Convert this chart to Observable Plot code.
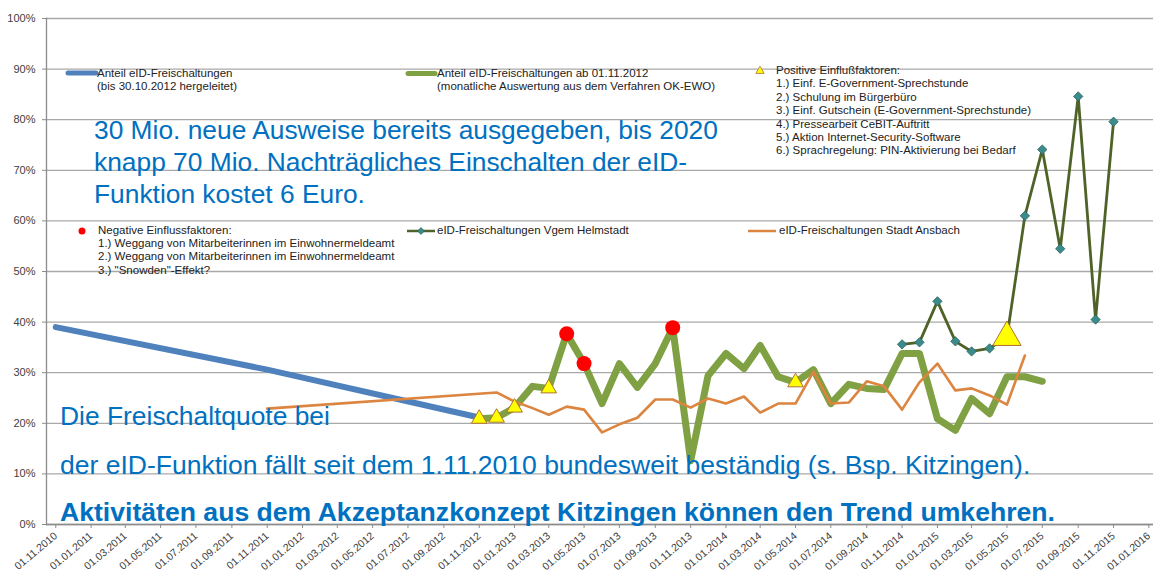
<!DOCTYPE html>
<html><head><meta charset="utf-8">
<script src="https://cdn.jsdelivr.net/npm/d3@7"></script>
<script src="https://cdn.jsdelivr.net/npm/@observablehq/plot@0.6"></script>
<style>
body{margin:0;background:#fff;}
#wrap{position:relative;width:1153px;height:575px;overflow:hidden;font-family:"Liberation Sans",Arial,sans-serif;}
#wrap > svg{position:absolute;left:0;top:0;}
#over{pointer-events:none}
</style></head><body><div id="wrap"></div>
<script>
// ---------- data ----------
const yTicks = [0, 10, 20, 30, 40, 50, 60, 70, 80, 90, 100];
const xTickLabels = ["01.11.2010","01.01.2011","01.03.2011","01.05.2011","01.07.2011","01.09.2011",
  "01.11.2011","01.01.2012","01.03.2012","01.05.2012","01.07.2012","01.09.2012",
  "01.11.2012","01.01.2013","01.03.2013","01.05.2013","01.07.2013","01.09.2013",
  "01.11.2013","01.01.2014","01.03.2014","01.05.2014","01.07.2014","01.09.2014",
  "01.11.2014","01.01.2015","01.03.2015","01.05.2015","01.07.2015","01.09.2015",
  "01.11.2015","01.01.2016"];

// Anteil eID-Freischaltungen (bis 30.10.2012 hergeleitet)
const blueDates = ["2010-11-01", "2011-11-01", "2012-10-30"];
const blueValues = [39.0, 30.6, 21.2];

// Anteil eID-Freischaltungen ab 01.11.2012 (monthly from Nov 2012)
const greenStart = "2012-11-01";
const greenValues = [20.9, 21.1, 23.1, 27.3, 26.9, 37.7, 31.8, 23.9, 31.8, 27.1, 31.8, 38.9,
  12.6, 29.4, 33.8, 30.8, 35.4, 29.2, 28.1, 30.6, 23.9, 27.7, 26.9, 26.7,
  33.8, 33.8, 20.9, 18.6, 24.9, 21.9, 29.2, 29.2, 28.3];

// eID-Freischaltungen Stadt Ansbach
const ansbachDates0 = ["2011-11-01"];
const ansbachValues0 = [22.9];
const ansbachStart = "2012-12-01";
const ansbachValues = [26.1, 24.3, 23.0, 21.7, 23.3, 22.7, 18.2, 19.8, 21.1, 24.7, 24.7, 23.1,
  24.9, 23.9, 25.3, 22.1, 23.9, 23.9, 30.2, 23.9, 24.1, 28.3, 27.3, 22.7,
  28.1, 31.8, 26.5, 26.9, 25.5, 23.7, 33.4];

// eID-Freischaltungen Vgem Helmstadt
const helmStart = "2014-11-01";
const helmValues = [35.6, 36.0, 44.1, 36.2, 34.2, 34.8, 37.0, 61.0, 74.1, 54.5, 84.6, 40.5, 79.6];

// Negative Einflussfaktoren (on the green series)
const negDates = ["2013-04-01", "2013-05-01", "2013-10-01"];
// Positive Einflussfaktoren
const posDates = ["2012-11-01", "2012-12-01", "2013-01-01", "2013-03-01", "2014-05-01", "2015-05-01"];
const posValues = [20.9, 21.1, 23.1, 26.9, 28.1, 37.0];
const posBig = [false, false, false, false, false, true];

// ---------- build ----------
const parse = d3.utcParse("%Y-%m-%d");
const parseTick = d3.utcParse("%d.%m.%Y");
const monthly = (start, vals) => vals.map((v, i) => ({date: d3.utcMonth.offset(parse(start), i), v}));

const blue = blueDates.map((d, i) => ({date: parse(d), v: blueValues[i]}));
const green = monthly(greenStart, greenValues);
const ansbach = ansbachDates0.map((d, i) => ({date: parse(d), v: ansbachValues0[i]}))
  .concat(monthly(ansbachStart, ansbachValues));
const helm = monthly(helmStart, helmValues);
const greenByTime = new Map(green.map(d => [+d.date, d.v]));
const neg = negDates.map(d => ({date: parse(d), v: greenByTime.get(+parse(d))}));
const pos = posDates.map((d, i) => ({date: parse(d), v: posValues[i], big: posBig[i]}));
const xTicks = xTickLabels.map(parseTick);

const C = {blue: "#4F81BD", green: "#7FA043", orange: "#DB8540", helm: "#4F6228", diamond: "#3A8C8C",
  red: "#FF0000", yellow: "#FFFF00", triStroke: "#B0703A", grid: "#A9A9A9", axis: "#8C8C8C", text: "#404040"};

const chart = Plot.plot({
  width: 1153, height: 575,
  marginTop: 18, marginBottom: 51, marginLeft: 46, marginRight: 0,
  style: {fontFamily: "'Liberation Sans', Arial, sans-serif", background: "white", overflow: "visible"},
  x: {type: "utc", domain: [parse("2010-10-16"), parse("2016-01-09")]},
  y: {domain: [0, 100]},
  marks: [
    Plot.gridY(yTicks, {stroke: C.grid, strokeOpacity: 1, strokeWidth: 1.3}),
    Plot.axisY(yTicks, {tickFormat: d => d + "%", tickSize: 4, tickPadding: 7, fontSize: 11,
      fill: C.text, stroke: C.axis, label: null}),
    Plot.frame({anchor: "left", stroke: C.axis, strokeWidth: 1.3}),
    Plot.axisX(xTicks, {tickFormat: d3.utcFormat("%d.%m.%Y"), tickRotate: -40, tickSize: 4, tickPadding: 6,
      fontSize: 10.5, fill: C.text, stroke: C.axis, label: null}),
    Plot.ruleY([0], {stroke: C.axis, strokeWidth: 1.3}),
    Plot.line(blue, {x: "date", y: "v", stroke: C.blue, strokeWidth: 6, strokeLinecap: "round"}),
    Plot.line(green, {x: "date", y: "v", stroke: C.green, strokeWidth: 7, strokeLinejoin: "round", strokeLinecap: "round"}),
    Plot.line(ansbach, {x: "date", y: "v", stroke: C.orange, strokeWidth: 2.6}),
    Plot.line(helm, {x: "date", y: "v", stroke: C.helm, strokeWidth: 2.8}),
    Plot.dot(helm, {x: "date", y: "v", symbol: "diamond2", r: 4.2, fill: C.diamond, stroke: "#2A5F5F", strokeWidth: 0.8}),
    Plot.dot(neg, {x: "date", y: "v", r: 7.5, fill: C.red}),
    Plot.dot(pos.filter(d => !d.big), {x: "date", y: "v", symbol: "triangle", r: 5.8, fill: C.yellow, stroke: C.triStroke, strokeWidth: 1}),
    Plot.dot(pos.filter(d => d.big), {x: "date", y: "v", symbol: "triangle", r: 10.5, fill: C.yellow, stroke: C.triStroke, strokeWidth: 1})
  ]
});
const wrap = document.getElementById("wrap");
wrap.appendChild(chart);

// ---------- overlay: legends and annotations ----------
const legendText = [
  {x: 97, y: 77, lines: ["Anteil eID-Freischaltungen", "(bis 30.10.2012 hergeleitet)"]},
  {x: 437, y: 77, lines: ["Anteil eID-Freischaltungen ab 01.11.2012", "(monatliche Auswertung aus dem Verfahren OK-EWO)"]},
  {x: 776, y: 74, lines: ["Positive Einflußfaktoren:", "1.) Einf. E-Government-Sprechstunde", "2.) Schulung im Bürgerbüro",
    "3.) Einf. Gutschein (E-Government-Sprechstunde)", "4.) Pressearbeit CeBIT-Auftritt", "5.) Aktion Internet-Security-Software",
    "6.) Sprachregelung: PIN-Aktivierung bei Bedarf"]},
  {x: 98, y: 233.5, lines: ["Negative Einflussfaktoren:", "1.) Weggang von Mitarbeiterinnen im Einwohnermeldeamt",
    "2.) Weggang von Mitarbeiterinnen im Einwohnermeldeamt", "3.) \"Snowden\"-Effekt?"]},
  {x: 437, y: 233.5, lines: ["eID-Freischaltungen Vgem Helmstadt"]},
  {x: 779, y: 233.5, lines: ["eID-Freischaltungen Stadt Ansbach"]}
];
const bigText = [
  {x: 94, y: 139, size: 26.35, weight: "normal", lines: ["30 Mio. neue Ausweise bereits ausgegeben, bis 2020",
    "knapp 70 Mio. Nachträgliches Einschalten der eID-", "Funktion kostet 6 Euro."]},
  {x: 60, y: 425, size: 26.4, weight: "normal", lines: ["Die Freischaltquote bei"]},
  {x: 60, y: 474, size: 26.5, weight: "normal", lines: ["der eID-Funktion fällt seit dem 1.11.2010 bundesweit beständig (s. Bsp. Kitzingen)."]},
  {x: 60, y: 521, size: 26.6, weight: "bold", lines: ["Aktivitäten aus dem Akzeptanzkonzept Kitzingen können den Trend umkehren."]}
];

const over = d3.create("svg").attr("id", "over").attr("width", 1153).attr("height", 575)
  .style("font-family", "'Liberation Sans', Arial, sans-serif");
// swatches
over.append("line").attr("x1", 68).attr("x2", 96).attr("y1", 73).attr("y2", 73).attr("stroke", C.blue).attr("stroke-width", 5).attr("stroke-linecap", "round");
over.append("line").attr("x1", 408).attr("x2", 435).attr("y1", 73.5).attr("y2", 73.5).attr("stroke", C.green).attr("stroke-width", 5).attr("stroke-linecap", "round");
over.append("path").attr("d", d3.symbol(d3.symbolTriangle, 30)()).attr("transform", "translate(760,71)").attr("fill", C.yellow).attr("stroke", C.triStroke).attr("stroke-width", 0.8);
over.append("circle").attr("cx", 82).attr("cy", 231).attr("r", 3.5).attr("fill", C.red);
over.append("line").attr("x1", 407).attr("x2", 435).attr("y1", 231).attr("y2", 231).attr("stroke", C.helm).attr("stroke-width", 2.5);
over.append("path").attr("d", d3.symbol(d3.symbolDiamond2, 30)()).attr("transform", "translate(421,231)").attr("fill", C.diamond).attr("stroke", "#2A5F5F").attr("stroke-width", 0.7);
over.append("line").attr("x1", 748).attr("x2", 776).attr("y1", 231).attr("y2", 231).attr("stroke", C.orange).attr("stroke-width", 2.5);

for (const b of legendText) {
  const t = over.append("text").attr("x", b.x).attr("y", b.y).attr("font-size", 11.5).attr("fill", "#222");
  b.lines.forEach((l, i) => t.append("tspan").attr("x", b.x).attr("dy", i ? 13.4 : 0).text(l));
}
for (const b of bigText) {
  const t = over.append("text").attr("x", b.x).attr("y", b.y).attr("font-size", b.size).attr("font-weight", b.weight).attr("fill", "#0070C0");
  b.lines.forEach((l, i) => t.append("tspan").attr("x", b.x).attr("dy", i ? 32 : 0).text(l));
}
wrap.appendChild(over.node());
</script></body></html>
